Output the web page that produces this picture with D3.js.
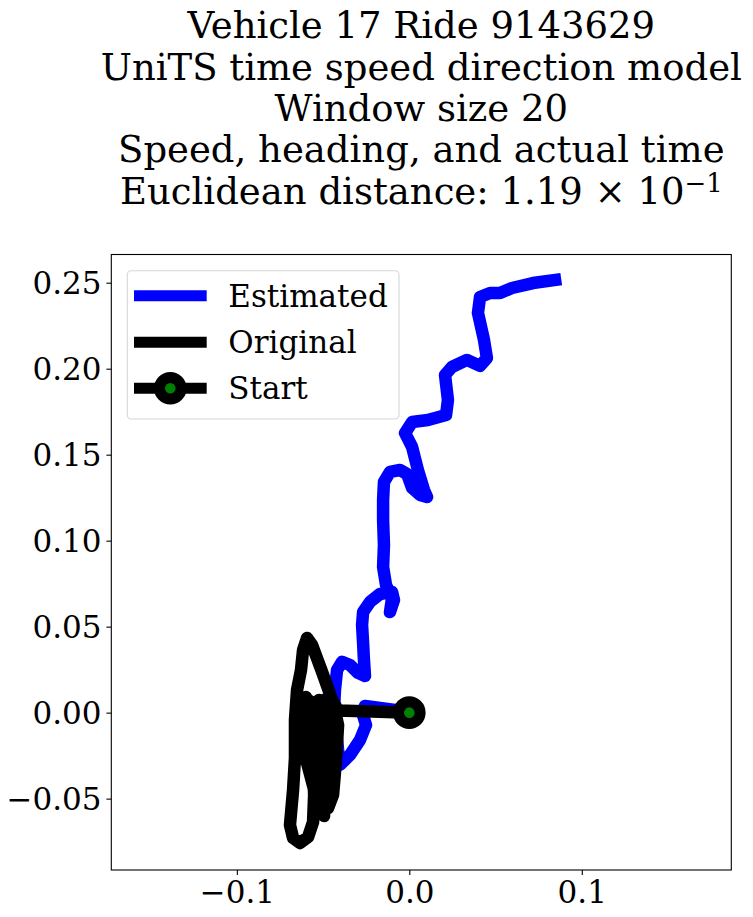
<!DOCTYPE html>
<html>
<head>
<meta charset="utf-8">
<script src="https://cdn.jsdelivr.net/npm/d3@7"></script>
<style>
  html, body { margin: 0; padding: 0; background: #fff; }
  svg { display: block; }
  text { font-family: "DejaVu Serif", serif; fill: #000; }
</style>
</head>
<body>
<svg id="chart" width="753" height="917"></svg>
<script>
// ---- Data ----
const titleLines = [
  "Vehicle 17 Ride 9143629",
  "UniTS time speed direction model",
  "Window size 20",
  "Speed, heading, and actual time"
];
const distancePrefix = "Euclidean distance: ";
const distanceMantissa = "1.19";
const distanceExponent = "\u22121";

const estimatedX = [0, -0.0083, -0.0170, -0.0257, -0.0274, -0.0251, -0.0286, -0.0344, -0.0402, -0.0413,
  -0.0425, -0.0437, -0.0431, -0.0419, -0.0390, -0.0344, -0.0297, -0.0257, -0.0263, -0.0268,
  -0.0274, -0.0268, -0.0228, -0.0170, -0.0100, -0.0089, -0.0112, -0.0100, -0.0135, -0.0152,
  -0.0147, -0.0152, -0.0152, -0.0147, -0.0112, -0.0054, -0.0013, 0.0016, 0.0062, 0.0103,
  0.0085, 0.0050, 0.0016, -0.0025, 0.0016, 0.0108, 0.0213, 0.0224, 0.0207, 0.0247,
  0.0334, 0.0410, 0.0450, 0.0433, 0.0398, 0.0410, 0.0468, 0.0526, 0.0595, 0.0717, 0.0845];
const estimatedY = [0, 0.0016, 0.0027, 0.0039, 0.0004, -0.0072, -0.0159, -0.0246, -0.0304, -0.0217,
  -0.0101, 0.0016, 0.0132, 0.0248, 0.0295, 0.0277, 0.0231, 0.0213, 0.0306, 0.0405,
  0.0510, 0.0585, 0.0644, 0.0690, 0.0702, 0.0655, 0.0585, 0.0667, 0.0742, 0.0847,
  0.0975, 0.1120, 0.1237, 0.1341, 0.1400, 0.1411, 0.1388, 0.1307, 0.1266, 0.1254,
  0.1295, 0.1411, 0.1545, 0.1626, 0.1690, 0.1702, 0.1731, 0.1818, 0.1963, 0.2010,
  0.2051, 0.2016, 0.2062, 0.2167, 0.2324, 0.2417, 0.2440, 0.2440, 0.2469, 0.2498, 0.2516];

const originalX = [0, -0.0216, -0.0413, -0.0448, -0.0506, -0.0564, -0.0593, -0.0616, -0.0628, -0.0651,
  -0.0663, -0.0663, -0.0674, -0.0692, -0.0674, -0.0634, -0.0587, -0.0558, -0.0552, -0.0558,
  -0.0564, -0.0564, -0.0599, -0.0610, -0.0610, -0.0518, -0.0494, -0.0506, -0.0518, -0.0523,
  -0.0477, -0.0471, -0.0466, -0.0471, -0.0442, -0.0425, -0.0413, -0.0437, -0.0494, -0.0494,
  -0.0489, -0.0541, -0.0541, -0.0541, -0.0587, -0.0587, -0.0634, -0.0634, -0.0442];
const originalY = [0, 0.0007, 0.0013, 0.0074, 0.0237, 0.0394, 0.0434, 0.0365, 0.0248, 0.0132,
  -0.0042, -0.0263, -0.0449, -0.0653, -0.0729, -0.0758, -0.0723, -0.0636, -0.0478, -0.0333,
  -0.0188, -0.0013, 0.0091, -0.0072, -0.0228, -0.0577, -0.0601, -0.0391, -0.0159, 0.0074,
  0.0045, -0.0159, -0.0391, -0.0554, -0.0478, -0.0275, -0.0072, 0.0039, 0.0074, -0.0275,
  -0.0537, -0.0508, -0.0275, 0.0045, 0.0074, -0.0217, -0.0205, 0.0074, -0.0159];

const startPoint = [0, 0];

const xTicks = [-0.1, 0.0, 0.1];
const yTicks = [-0.05, 0.00, 0.05, 0.10, 0.15, 0.20, 0.25];
const xDomain = [-0.1728, 0.1867];
const yDomain = [-0.0915, 0.2664];

const legendLabels = ["Estimated", "Original", "Start"];
const colors = { estimated: "#0000ff", original: "#000000", start: "#008000" };

// ---- Layout ----
const svg = d3.select("#chart");
const plot = { left: 111.3, right: 731.3, top: 254.5, bottom: 870 };
const fontSize = 31;
const lw = 11;
const dataLw = 12.5;

const x = d3.scaleLinear().domain(xDomain).range([plot.left, plot.right]);
const y = d3.scaleLinear().domain(yDomain).range([plot.bottom, plot.top]);
const minus = s => s.replace("-", "\u2212");

// Title
const cx = (plot.left + plot.right) / 2;
const titleSize = 37;
const baselines = [38, 80, 121, 162, 204];
const title = svg.append("g").attr("text-anchor", "middle").style("font-size", titleSize + "px");
titleLines.forEach((t, i) => {
  title.append("text").attr("x", cx).attr("y", baselines[i]).text(t);
});
const last = title.append("text").attr("x", cx).attr("y", baselines[4]);
last.append("tspan").text(distancePrefix + distanceMantissa + " \u00d7 10");
last.append("tspan").attr("dy", -12).style("font-size", (titleSize * 0.7) + "px").text(distanceExponent);

// Clip
svg.append("clipPath").attr("id", "clip").append("rect")
  .attr("x", plot.left).attr("y", plot.top)
  .attr("width", plot.right - plot.left).attr("height", plot.bottom - plot.top);

const line = d3.line().x(d => x(d[0])).y(d => y(d[1]));
const g = svg.append("g").attr("clip-path", "url(#clip)");

const est = estimatedX.map((v, i) => [v, estimatedY[i]]);
const ori = originalX.map((v, i) => [v, originalY[i]]);

g.append("path").datum(est).attr("d", line)
  .attr("fill", "none").attr("stroke", colors.estimated).attr("stroke-width", dataLw)
  .attr("stroke-linejoin", "round").attr("stroke-linecap", "square");
g.append("path").datum(ori).attr("d", line)
  .attr("fill", "none").attr("stroke", colors.original).attr("stroke-width", dataLw)
  .attr("stroke-linejoin", "round").attr("stroke-linecap", "round");
g.append("circle").attr("cx", x(startPoint[0])).attr("cy", y(startPoint[1]))
  .attr("r", 10.8).attr("fill", colors.start).attr("stroke", colors.original).attr("stroke-width", 11);

// Axes
const xAxis = d3.axisBottom(x).tickValues(xTicks).tickSize(4.9).tickPadding(4.9)
  .tickFormat(d => minus(d3.format(".1f")(d)));
const yAxis = d3.axisLeft(y).tickValues(yTicks).tickSize(4.9).tickPadding(4.9)
  .tickFormat(d => minus(d3.format(".2f")(d)));

const gx = svg.append("g").attr("transform", `translate(0,${plot.bottom})`).call(xAxis);
const gy = svg.append("g").attr("transform", `translate(${plot.left},0)`).call(yAxis);
[gx, gy].forEach(a => {
  a.select(".domain").remove();
  a.selectAll(".tick line").attr("stroke", "#000").attr("stroke-width", 1.1);
  a.selectAll(".tick text").style("font-family", "DejaVu Serif").style("font-size", fontSize + "px").attr("fill", "#000");
});
gy.selectAll(".tick text").attr("dy", "0.36em");
gx.selectAll(".tick text").attr("dy", "0.76em");

svg.append("rect").attr("x", plot.left).attr("y", plot.top)
  .attr("width", plot.right - plot.left).attr("height", plot.bottom - plot.top)
  .attr("fill", "none").attr("stroke", "#000").attr("stroke-width", 1.1);

// Legend
const lg = svg.append("g");
lg.append("rect").attr("x", 127.3).attr("y", 270.7).attr("width", 271.7).attr("height", 148.3)
  .attr("rx", 4).attr("fill", "#fff").attr("fill-opacity", 0.8)
  .attr("stroke", "#d6d6d6").attr("stroke-width", 1.1);
const rowY = [295.7, 342.3, 388.3];
legendLabels.forEach((lab, i) => {
  const color = i === 0 ? colors.estimated : colors.original;
  lg.append("line").attr("x1", 134).attr("x2", 206.7).attr("y1", rowY[i]).attr("y2", rowY[i])
    .attr("stroke", color).attr("stroke-width", lw);
  if (i === 2) {
    lg.append("circle").attr("cx", 170.3).attr("cy", rowY[i]).attr("r", 10.8)
      .attr("fill", colors.start).attr("stroke", colors.original).attr("stroke-width", 11);
  }
  lg.append("text").attr("x", 228.3).attr("y", rowY[i]).attr("dy", "0.36em")
    .style("font-size", fontSize + "px").text(lab);
});
</script>
</body>
</html>
